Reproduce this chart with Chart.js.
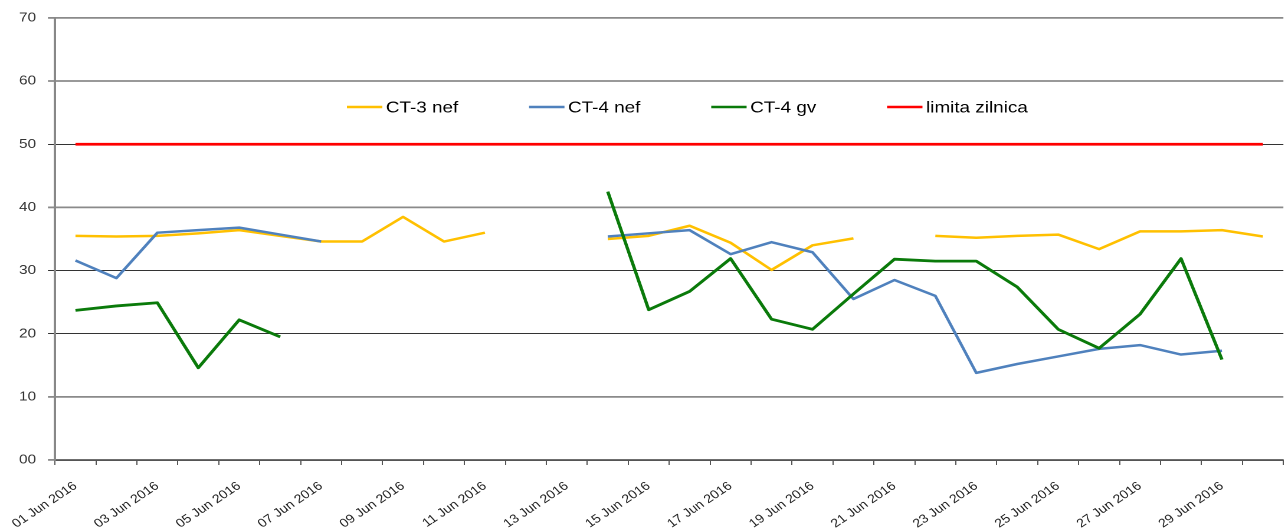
<!DOCTYPE html>
<html>
<head>
<meta charset="utf-8">
<script src="https://cdn.jsdelivr.net/npm/chart.js@4"></script>
<style>
  html, body { margin: 0; padding: 0; background: #fff; overflow: hidden; }
  /* the chart is laid out narrow and widened horizontally */
  #wrap { position: absolute; left: 0; top: 0; width: 1089px; height: 529px;
          transform: scaleX(1.18); transform-origin: 0 0; }
</style>
</head>
<body>
<div id="wrap"><canvas id="c"></canvas></div>
<script>
// Daily values, June 2016
const dates = [
  '01 Jun 2016', '02 Jun 2016', '03 Jun 2016', '04 Jun 2016', '05 Jun 2016',
  '06 Jun 2016', '07 Jun 2016', '08 Jun 2016', '09 Jun 2016', '10 Jun 2016',
  '11 Jun 2016', '12 Jun 2016', '13 Jun 2016', '14 Jun 2016', '15 Jun 2016',
  '16 Jun 2016', '17 Jun 2016', '18 Jun 2016', '19 Jun 2016', '20 Jun 2016',
  '21 Jun 2016', '22 Jun 2016', '23 Jun 2016', '24 Jun 2016', '25 Jun 2016',
  '26 Jun 2016', '27 Jun 2016', '28 Jun 2016', '29 Jun 2016', '30 Jun 2016'
];
const ct3Nef = [35.5, 35.4, 35.5, 35.9, 36.4, 35.5, 34.6, 34.6, 38.5, 34.6,
                36.0, null, null, 35.0, 35.5, 37.1, 34.4, 30.1, 34.0, 35.1,
                null, 35.5, 35.2, 35.5, 35.7, 33.4, 36.2, 36.2, 36.4, 35.4];
const ct4Nef = [31.6, 28.8, 36.0, 36.4, 36.8, 35.7, 34.6, null, null, null,
                null, null, null, 35.4, 35.9, 36.4, 32.6, 34.5, 32.9, 25.5,
                28.5, 26.0, 13.8, 15.2, 16.4, 17.6, 18.2, 16.7, 17.3, null];
const ct4Gv = [23.7, 24.4, 24.9, 14.6, 22.2, 19.5, null, null, null, null,
               null, null, null, 42.5, 23.8, 26.7, 31.9, 22.3, 20.7, 26.3,
               31.8, 31.5, 31.5, 27.4, 20.7, 17.7, 23.1, 31.9, 15.9, null];
const limitaZilnica = [50, 50, 50, 50, 50, 50, 50, 50, 50, 50,
                       50, 50, 50, 50, 50, 50, 50, 50, 50, 50,
                       50, 50, 50, 50, 50, 50, 50, 50, 50, 50];
const yTickLabels = ['00', '10', '20', '30', '40', '50', '60', '70'];

const FONT = '"Liberation Sans", Arial, sans-serif';

// legend drawn inside the plot, as a single row above the limit line
const insideLegend = {
  id: 'insideLegend',
  afterDraw(chart) {
    const ctx = chart.ctx;
    const y = 107;
    let x = 294;
    ctx.save();
    ctx.font = '16px ' + FONT;
    ctx.textBaseline = 'middle';
    ctx.textAlign = 'left';
    chart.data.datasets.forEach(ds => {
      ctx.strokeStyle = ds.borderColor;
      ctx.lineWidth = 2.6;
      ctx.beginPath();
      ctx.moveTo(x, y);
      ctx.lineTo(x + 30, y);
      ctx.stroke();
      ctx.fillStyle = '#000';
      ctx.fillText(ds.label, x + 33, y + 1);
      x += 33 + ctx.measureText(ds.label).width + 60;
    });
    ctx.restore();
  }
};

const lineStyle = { pointRadius: 0, pointHoverRadius: 0, tension: 0,
                    borderJoinStyle: 'round', spanGaps: false, fill: false };

new Chart(document.getElementById('c'), {
  type: 'line',
  data: {
    labels: dates,
    datasets: [
      { label: 'CT-3 nef', data: ct3Nef, borderColor: '#FFC000', borderWidth: 2.5, order: 3, ...lineStyle },
      { label: 'CT-4 nef', data: ct4Nef, borderColor: '#4F81BD', borderWidth: 2.5, order: 2, ...lineStyle },
      { label: 'CT-4 gv', data: ct4Gv, borderColor: '#0A7A0A', borderWidth: 2.8, order: 1, ...lineStyle },
      { label: 'limita zilnica', data: limitaZilnica, borderColor: '#FF0000', borderWidth: 2.8, order: 4, ...lineStyle }
    ]
  },
  options: {
    responsive: true,
    maintainAspectRatio: false,
    devicePixelRatio: 2,
    animation: false,
    events: [],
    layout: { padding: { top: 18, right: 0, left: 0, bottom: 0 } },
    plugins: { legend: { display: false }, tooltip: { enabled: false } },
    scales: {
      x: {
        offset: true,
        grid: { display: true, drawOnChartArea: false, drawTicks: true, tickLength: 5,
                color: '#555', lineWidth: 1, offset: true },
        border: { display: true, color: '#555', width: 1.5 },
        ticks: {
          autoSkip: false, minRotation: 38, maxRotation: 38, padding: 14,
          color: '#222', font: { family: FONT, size: 12 },
          callback: (v, i) => (i % 2 === 0 ? dates[i] : '')
        },
        afterFit: s => { s.height = 69; s.paddingLeft = 0; s.paddingRight = 0; }
      },
      y: {
        min: 0, max: 70,
        grid: {
          drawTicks: true, tickLength: 6,
          color: c => ([0, 10, 40, 70].includes(c.tick.value) ? '#8a8a8a' : '#333'),
          lineWidth: c => ([0, 10, 40, 70].includes(c.tick.value) ? 1.8 : 1)
        },
        border: { display: true, color: '#888', width: 2 },
        ticks: {
          stepSize: 10, padding: 10, color: '#333',
          font: { family: FONT, size: 13 },
          callback: (v, i) => yTickLabels[i]
        },
        afterFit: s => { s.width = 46.6; }
      }
    }
  },
  plugins: [insideLegend]
});
</script>
</body>
</html>
